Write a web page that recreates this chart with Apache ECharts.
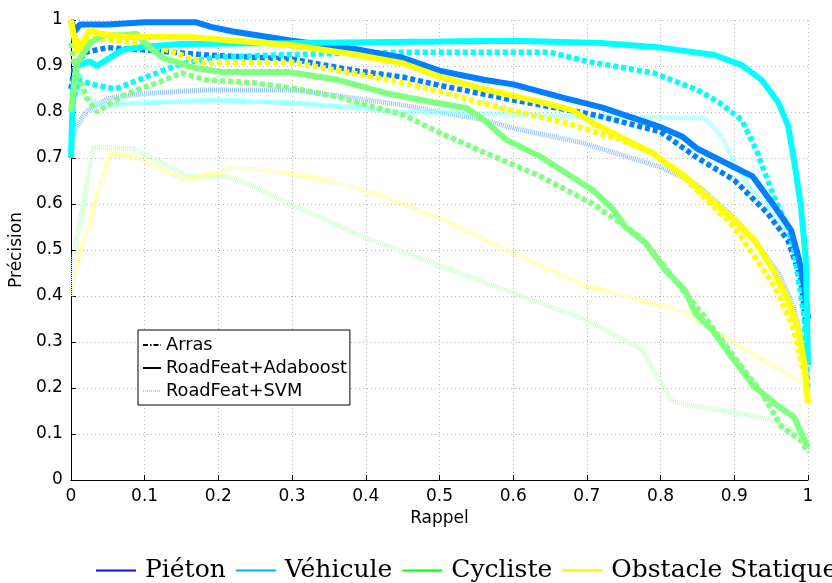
<!DOCTYPE html>
<html><head><meta charset="utf-8">
<script src="https://cdn.jsdelivr.net/npm/echarts@6/dist/echarts.min.js"></script>
<style>html,body{margin:0;padding:0;background:#fff}#c{width:832px;height:583px}</style>
</head><body><div id="c"></div>
<script>
const classNames = ['Piéton', 'Véhicule', 'Cycliste', 'Obstacle Statique'];
const methodNames = ['Arras', 'RoadFeat+Adaboost', 'RoadFeat+SVM'];
const xTickValues = [0, 0.1, 0.2, 0.3, 0.4, 0.5, 0.6, 0.7, 0.8, 0.9, 1];
const yTickValues = [0, 0.1, 0.2, 0.3, 0.4, 0.5, 0.6, 0.7, 0.8, 0.9, 1];

// [recall, precision]
const pietonArras = [[0,0.85],[0.005,0.9],[0.02,0.93],[0.05,0.94],[0.1,0.935],[0.183,0.924],[0.3,0.915],[0.385,0.89],[0.45,0.876],[0.5,0.858],[0.6,0.826],[0.7,0.797],[0.72,0.79],[0.8,0.757],[0.85,0.7],[0.9,0.652],[0.945,0.58],[0.973,0.52],[0.99,0.44],[1,0.3]];
const pietonAdaboost = [[0,1],[0.005,0.975],[0.012,0.99],[0.05,0.99],[0.1,0.995],[0.17,0.995],[0.19,0.985],[0.22,0.975],[0.3,0.955],[0.385,0.937],[0.45,0.918],[0.5,0.89],[0.56,0.87],[0.6,0.86],[0.67,0.83],[0.72,0.81],[0.8,0.767],[0.83,0.746],[0.85,0.72],[0.9,0.68],[0.925,0.66],[0.955,0.594],[0.977,0.543],[0.988,0.478],[0.995,0.42],[1,0.35]];
const pietonSVM = [[0,0.7],[0.005,0.76],[0.02,0.8],[0.05,0.83],[0.1,0.84],[0.18,0.848],[0.3,0.848],[0.385,0.83],[0.45,0.815],[0.5,0.8],[0.56,0.783],[0.6,0.765],[0.694,0.733],[0.8,0.68],[0.847,0.645],[0.9,0.57],[0.93,0.515],[0.96,0.45],[0.98,0.38],[1,0.25]];

const vehiculeArras = [[0,0.8],[0.01,0.87],[0.03,0.86],[0.06,0.85],[0.1,0.875],[0.15,0.905],[0.2,0.92],[0.3,0.925],[0.45,0.93],[0.65,0.93],[0.7,0.91],[0.79,0.885],[0.85,0.848],[0.88,0.82],[0.91,0.783],[0.93,0.717],[0.94,0.674],[0.954,0.615],[0.973,0.55],[0.981,0.5],[0.995,0.35],[1,0.2]];
const vehiculeAdaboost = [[0,0.7],[0.003,0.85],[0.008,0.9],[0.026,0.91],[0.035,0.9],[0.07,0.935],[0.1,0.942],[0.15,0.948],[0.3,0.95],[0.5,0.953],[0.6,0.955],[0.72,0.95],[0.8,0.94],[0.873,0.924],[0.91,0.902],[0.937,0.87],[0.96,0.82],[0.973,0.77],[0.981,0.695],[0.99,0.6],[0.997,0.48],[1,0.25]];
const vehiculeSVM = [[0,0.75],[0.005,0.86],[0.02,0.83],[0.05,0.815],[0.1,0.82],[0.2,0.826],[0.3,0.82],[0.45,0.8],[0.6,0.795],[0.7,0.79],[0.86,0.787],[0.883,0.746],[0.9,0.69],[0.923,0.63],[0.954,0.58],[0.977,0.515],[0.99,0.43],[1,0.3]];

const cyclisteArras = [[0,0.95],[0.005,0.9],[0.012,0.87],[0.022,0.83],[0.035,0.8],[0.05,0.815],[0.07,0.835],[0.09,0.848],[0.12,0.865],[0.15,0.885],[0.183,0.87],[0.25,0.863],[0.3,0.852],[0.362,0.833],[0.385,0.822],[0.452,0.793],[0.5,0.755],[0.564,0.71],[0.637,0.66],[0.708,0.6],[0.771,0.53],[0.806,0.463],[0.833,0.406],[0.86,0.355],[0.906,0.254],[0.937,0.19],[0.964,0.116],[0.99,0.087],[1,0.06]];
const cyclisteAdaboost = [[0,0.8],[0.008,0.906],[0.026,0.95],[0.045,0.967],[0.07,0.967],[0.089,0.97],[0.107,0.94],[0.125,0.917],[0.14,0.91],[0.17,0.895],[0.205,0.887],[0.295,0.887],[0.362,0.87],[0.43,0.84],[0.475,0.826],[0.537,0.808],[0.56,0.783],[0.59,0.74],[0.637,0.703],[0.672,0.667],[0.708,0.63],[0.735,0.59],[0.752,0.55],[0.78,0.515],[0.806,0.457],[0.833,0.413],[0.847,0.363],[0.87,0.326],[0.896,0.268],[0.927,0.203],[0.96,0.16],[0.981,0.137],[1,0.07]];
const cyclisteSVM = [[0,0.4],[0.005,0.5],[0.031,0.724],[0.085,0.72],[0.16,0.66],[0.21,0.66],[0.25,0.637],[0.3,0.598],[0.4,0.526],[0.5,0.467],[0.6,0.406],[0.7,0.348],[0.775,0.283],[0.798,0.217],[0.816,0.17],[0.906,0.145],[0.96,0.125],[0.99,0.1],[1,0.07]];

const obstacleArras = [[0,1],[0.008,0.95],[0.03,0.96],[0.07,0.955],[0.12,0.94],[0.183,0.906],[0.3,0.908],[0.385,0.884],[0.452,0.863],[0.5,0.845],[0.58,0.81],[0.672,0.776],[0.745,0.74],[0.79,0.71],[0.833,0.655],[0.9,0.55],[0.955,0.42],[0.98,0.33],[1,0.2]];
const obstacleAdaboost = [[0,1],[0.008,0.93],[0.026,0.978],[0.04,0.97],[0.07,0.963],[0.16,0.963],[0.3,0.945],[0.385,0.925],[0.45,0.906],[0.5,0.877],[0.564,0.848],[0.637,0.822],[0.68,0.804],[0.708,0.776],[0.745,0.746],[0.79,0.71],[0.802,0.695],[0.833,0.66],[0.9,0.565],[0.928,0.52],[0.955,0.45],[0.973,0.39],[0.987,0.326],[0.995,0.254],[1,0.167]];
const obstacleSVM = [[0,0.4],[0.005,0.45],[0.053,0.71],[0.098,0.696],[0.152,0.652],[0.197,0.667],[0.22,0.68],[0.264,0.674],[0.3,0.667],[0.4,0.63],[0.5,0.57],[0.6,0.493],[0.7,0.42],[0.775,0.39],[0.833,0.365],[0.9,0.297],[0.955,0.246],[1,0.205]];

const curveColors = ['#0080ff', '#00ffff', '#80ff80', '#ffff00'];
const paleColors = ['#94c2ff', '#94ffff', '#c8ffc8', '#ffff94'];
const legendColors = ['#1010e8', '#00b0f0', '#00ff00', '#ffee00'];

const curves = [
  [pietonArras, pietonAdaboost, pietonSVM],
  [vehiculeArras, vehiculeAdaboost, vehiculeSVM],
  [cyclisteArras, cyclisteAdaboost, cyclisteSVM],
  [obstacleArras, obstacleAdaboost, obstacleSVM]
];

const series = [];
// legend-only series
const methodLegendStyles = [
  {color: '#000', width: 2.5, type: [5, 2, 1.5, 2]},
  {color: '#000', width: 3, type: 'solid'},
  {color: '#c8c8c8', width: 2, type: [1, 1]}
];
methodNames.forEach((m, j) => {
  series.push({name: m, type: 'line', data: [], symbol: 'none', lineStyle: methodLegendStyles[j], itemStyle: {color: methodLegendStyles[j].color}});
});
classNames.forEach((c, i) => {
  series.push({name: c, type: 'line', data: [], symbol: 'none', lineStyle: {color: legendColors[i], width: 4}, itemStyle: {color: legendColors[i]}});
});
// actual curves: SVM first, then Arras, then Adaboost
[2, 0, 1].forEach(j => {
  classNames.forEach((c, i) => {
    let ls;
    if (j === 0) ls = {color: curveColors[i], width: 5.5, type: [5, 3]};
    else if (j === 1) ls = {color: curveColors[i], width: 6, type: 'solid'};
    else ls = {color: paleColors[i], width: 5, type: [1, 1]};
    series.push({
      name: c + ' ' + methodNames[j], type: 'line', data: curves[i][j],
      symbol: 'none', showSymbol: false, lineStyle: ls, itemStyle: {color: ls.color},
      silent: true, animation: false
    });
  });
});

const chart = echarts.init(document.getElementById('c'));
const axisCommon = {
  type: 'value', min: 0, max: 1, interval: 0.1,
  axisLine: {show: true, lineStyle: {color: '#000', width: 1}},
  axisTick: {show: true, inside: true, length: 5, lineStyle: {color: '#000'}},
  splitLine: {show: true, lineStyle: {color: '#b4b4b4', type: [1, 3], width: 1}},
  axisLabel: {color: '#000', fontFamily: 'DejaVu Sans', fontSize: 17},
  nameLocation: 'middle',
  nameTextStyle: {color: '#000', fontFamily: 'DejaVu Sans', fontSize: 17}
};
chart.setOption({
  animation: false,
  backgroundColor: '#fff',
  grid: {left: 65, right: 24, top: 20, bottom: 103},
  xAxis: Object.assign({}, axisCommon, {name: 'Rappel', nameGap: 24,
    axisLabel: Object.assign({}, axisCommon.axisLabel, {margin: 8})}),
  yAxis: Object.assign({}, axisCommon, {name: 'Précision', nameGap: 42,
    axisLabel: Object.assign({}, axisCommon.axisLabel, {margin: 8})}),
  legend: [
    {
      data: methodNames, orient: 'vertical', left: 138, top: 330,
      itemWidth: 18, itemHeight: 14, itemGap: 5,
      padding: [6, 3, 5, 4],
      borderColor: '#000', borderWidth: 1, backgroundColor: '#fff',
      itemStyle: {opacity: 0},
      textStyle: {color: '#000', fontFamily: 'DejaVu Sans', fontSize: 17.8},
      selectedMode: false
    },
    {
      data: classNames, orient: 'horizontal', left: 90, top: 553, width: 1200,
      itemWidth: 40, itemHeight: 24, itemGap: 9,
      itemStyle: {opacity: 0},
      textStyle: {color: '#000', fontFamily: 'DejaVu Serif', fontSize: 25, padding: [0, 0, 0, 4]},
      selectedMode: false
    }
  ],
  series: series
});
</script></body></html>
